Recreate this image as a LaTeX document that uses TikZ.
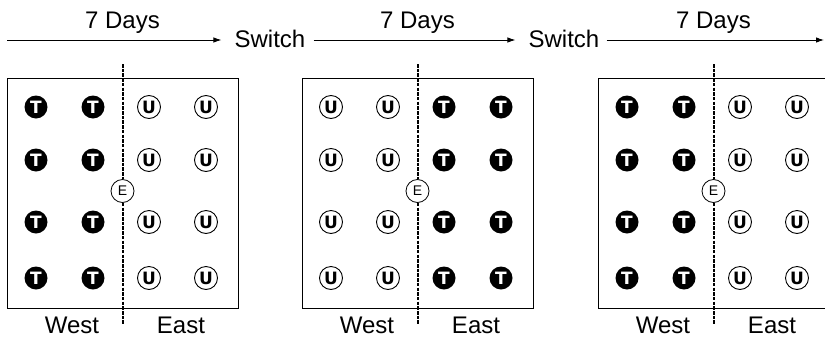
\documentclass[tikz,border=0pt]{standalone}
\usepackage{fontspec}
\setmainfont{Liberation Sans}
\newfontfamily\tokfont{DejaVu Sans}
\usetikzlibrary{arrows.meta}
\tikzset{
  lbl/.style={font=\fontsize{24}{28}\selectfont, inner sep=0pt, anchor=base},
  tok/.style={circle, minimum size=23pt, inner sep=0pt},
  ttok/.style={tok, fill=black, text=white, font=\tokfont\fontsize{17}{17}\selectfont\bfseries},
  utok/.style={tok, draw=black, line width=0.9pt, fill=white, text=black, font=\tokfont\fontsize{17}{17}\selectfont\bfseries},
  etok/.style={circle, minimum size=23pt, inner sep=0pt, draw=black, line width=0.8pt, fill=white, font=\fontsize{14}{14}\selectfont},
  boxline/.style={draw=black, line width=1pt},
  divider/.style={draw=black, line width=2pt, dash pattern=on 3.5pt off 1.2pt},
  arr/.style={draw=black, line width=0.9pt, -{Latex[length=8pt,width=5.5pt]}},
}
\begin{document}
\begin{tikzpicture}[x=1pt,y=-1pt]
\path[use as bounding box] (0,0) rectangle (825,338);
\begin{scope}
\clip (0,0) rectangle (825,338);
% top timeline
\coordinate (a0) at (7,40);
\coordinate (a3) at (824,40);
\node[lbl] (sw1) at (270,47) {Switch};
\node[lbl] (sw2) at (564,47) {Switch};
\draw[arr, shorten >=13pt] (a0) -- (sw1.west |- a0);
\draw[arr, shorten <=8pt, shorten >=13pt] (sw1.east |- a0) -- (sw2.west |- a0);
\draw[arr, shorten <=7pt] (sw2.east |- a0) -- (a3);
% three panels
\foreach \b/\ox/\lt/\rt in {1/7/T/U, 2/302/U/T, 3/598/T/U}{
  \node[lbl] (d\b) at (\ox+115.5,28) {7 Days};
  \node[boxline, rectangle, minimum width=231pt, minimum height=230pt, inner sep=0pt, anchor=north west] (box\b) at (\ox,78) {};
  \coordinate (top\b) at (\ox+115.5,64);
  \coordinate (bot\b) at (\ox+115.5,325);
  \node[etok] (e\b) at (\ox+115.5,191) {E};
  \draw[divider] (top\b) -- (e\b.north);
  \draw[divider] (e\b.south) -- (bot\b);
  \foreach \r/\y in {1/107,2/160,3/222,4/278}{
    \foreach \c/\cx in {1/29,2/86}{
      \if T\lt
        \node[ttok] (k\b-\r-\c) at (\ox+\cx,\y) {T};
      \else
        \node[utok] (k\b-\r-\c) at (\ox+\cx,\y) {U};
      \fi
    }
    \foreach \c/\cx in {3/142,4/199}{
      \if T\rt
        \node[ttok] (k\b-\r-\c) at (\ox+\cx,\y) {T};
      \else
        \node[utok] (k\b-\r-\c) at (\ox+\cx,\y) {U};
      \fi
    }
  }
  \node[lbl] (w\b) at (\ox+65,333) {West};
  \node[lbl] (ea\b) at (\ox+174,333) {East};
}
\end{scope}
\end{tikzpicture}
\end{document}
